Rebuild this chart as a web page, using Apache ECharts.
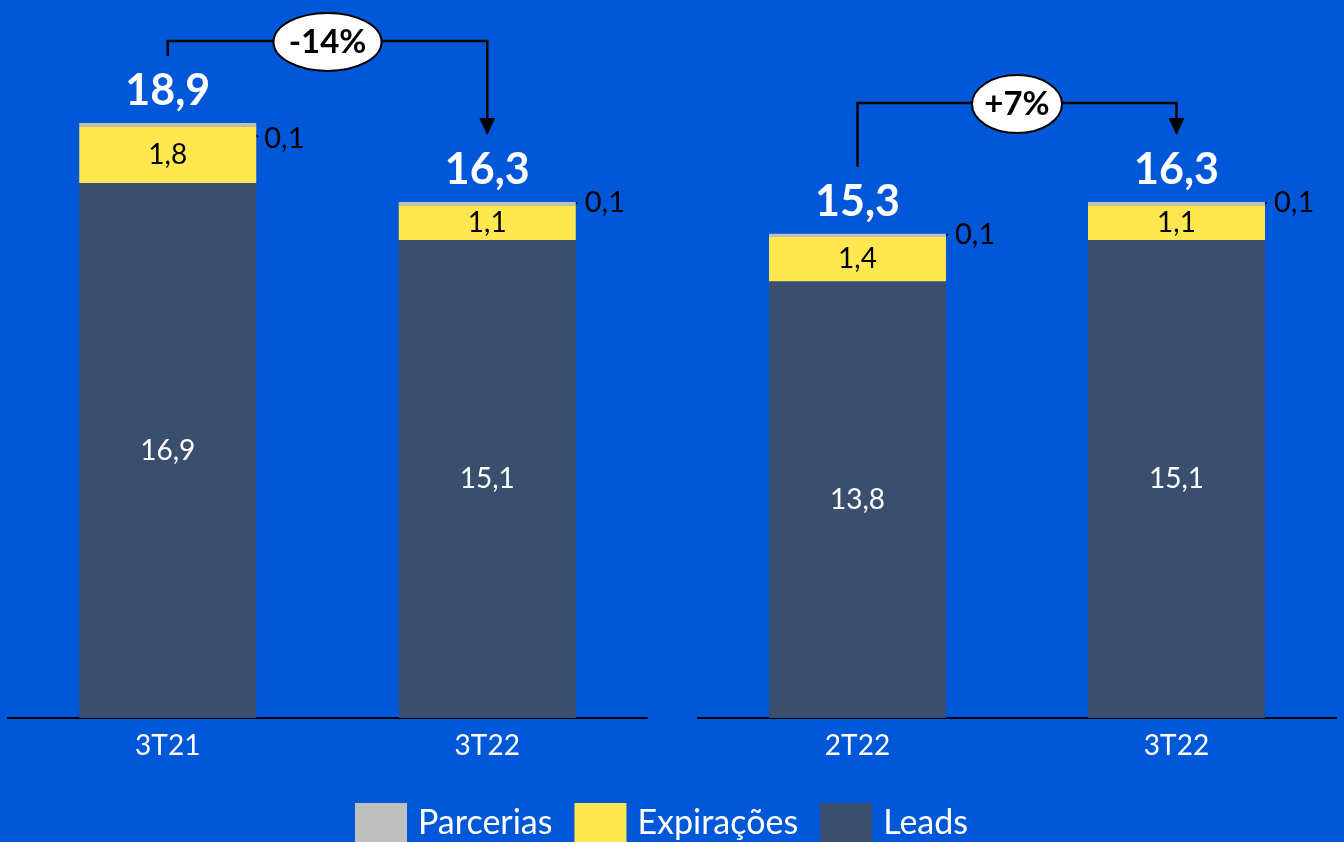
<!DOCTYPE html>
<html>
<head>
<meta charset="utf-8">
<script src="https://cdn.jsdelivr.net/npm/echarts@6/dist/echarts.min.js"></script>
<style>
  html, body { margin: 0; padding: 0; background: #0057D8; }
  #chart { width: 1344px; height: 842px; }
</style>
</head>
<body>
<div id="chart"></div>
<script>
// Períodos comparados em cada painel
const periodosA = ['3T21', '3T22'];
const periodosB = ['2T22', '3T22'];

// Valores por barra (painel A: 3T21, 3T22; painel B: 2T22, 3T22)
const leads      = [16.9, 15.1, 13.8, 15.1];
const expiracoes = [1.8, 1.1, 1.4, 1.1];
const parcerias  = [0.1, 0.1, 0.1, 0.1];
const totais     = [18.9, 16.3, 15.3, 16.3];

// Variação entre as barras de cada painel
const variacoes = ['-14%', '+7%'];

const FONT = 'Lato';
const COR_LEADS = '#3A4F6E';
const COR_EXP = '#FFE84F';
const COR_PARC = '#BFBFBF';
const fmt = v => v.toFixed(1).replace('.', ',');

const chart = echarts.init(document.getElementById('chart'));

const BAR_W = 177;
const grids = [
  { left: 8, width: 639, top: 85, bottom: 124 },
  { left: 698, width: 638, top: 85, bottom: 124 }
];
const categorias = [periodosA, periodosB];

const xAxes = categorias.map((cats, g) => ({
  type: 'category',
  gridIndex: g,
  data: cats,
  axisLine: { show: true, lineStyle: { color: '#000', width: 2 } },
  axisTick: { show: false },
  axisLabel: { color: '#fff', fontSize: 28, fontFamily: FONT, margin: 14 }
}));
const yAxes = categorias.map((_, g) => ({
  type: 'value', gridIndex: g, min: 0, max: 20, show: false,
  splitLine: { show: false }
}));

const series = [];
[0, 1].forEach(g => {
  const sl = arr => arr.slice(2 * g, 2 * g + 2);
  series.push({
    name: 'Leads', type: 'bar', stack: 'p' + g, xAxisIndex: g, yAxisIndex: g,
    barWidth: BAR_W, data: sl(leads),
    itemStyle: { color: COR_LEADS },
    label: { show: true, position: 'inside', color: '#fff', fontSize: 28, fontFamily: FONT,
             formatter: p => fmt(p.value) }
  });
  series.push({
    name: 'Expirações', type: 'bar', stack: 'p' + g, xAxisIndex: g, yAxisIndex: g,
    barWidth: BAR_W, data: sl(expiracoes),
    itemStyle: { color: COR_EXP },
    label: { show: true, position: 'inside', color: '#000', fontSize: 28, fontFamily: FONT,
             formatter: p => fmt(p.value) }
  });
  const tot = sl(totais);
  series.push({
    name: 'Parcerias', type: 'bar', stack: 'p' + g, xAxisIndex: g, yAxisIndex: g,
    barWidth: BAR_W, data: sl(parcerias),
    itemStyle: { color: COR_PARC },
    label: { show: true, position: 'top', distance: 10, color: '#fff', fontSize: 43,
             fontWeight: 'bold', fontFamily: FONT,
             formatter: p => fmt(tot[p.dataIndex]) }
  });
});

chart.setOption({
  backgroundColor: '#0057D8',
  animation: false,
  grid: grids,
  xAxis: xAxes,
  yAxis: yAxes,
  legend: {
    data: ['Parcerias', 'Expirações', 'Leads'],
    left: 355, top: 803, padding: 0,
    itemWidth: 52, itemHeight: 40, itemGap: 22,
    icon: 'rect',
    selectedMode: false,
    textStyle: { color: '#fff', fontSize: 34, fontFamily: FONT, padding: [8, 0, 0, 6] }
  },
  series: series
});

// Anotações: rótulos "0,1" das parcerias e setas de variação
const elems = [];
const centros = [], topos = [];
for (let i = 0; i < 4; i++) {
  const g = Math.floor(i / 2), j = i % 2;
  const pilha = leads[i] + expiracoes[i] + parcerias[i];
  const [cx, ty] = chart.convertToPixel({ gridIndex: g }, [j, pilha]);
  centros.push(cx); topos.push(ty);
  const dir = cx + BAR_W / 2;
  if (i === 0) {
    elems.push({ type: 'line', shape: { x1: dir - 16, y1: ty, x2: dir + 2, y2: ty + 14 },
                 style: { stroke: '#000', lineWidth: 1.5 } });
    elems.push({ type: 'text', x: dir + 8, y: ty + 16,
                 style: { text: fmt(parcerias[i]), fill: '#000', font: '29px ' + FONT,
                          textVerticalAlign: 'middle', textAlign: 'left' } });
  } else {
    elems.push({ type: 'line', shape: { x1: dir - 16, y1: ty + 1, x2: dir + 2, y2: ty + 1 },
                 style: { stroke: '#000', lineWidth: 1.5 } });
    elems.push({ type: 'text', x: dir + 9, y: ty + 1,
                 style: { text: fmt(parcerias[i]), fill: '#000', font: '29px ' + FONT,
                          textVerticalAlign: 'middle', textAlign: 'left' } });
  }
}

const setas = [
  { de: 0, para: 1, elev: 82, rx: 54, texto: variacoes[0] },
  { de: 2, para: 3, elev: 99, rx: 45, texto: variacoes[1] }
];
setas.forEach(s => {
  const x1 = centros[s.de], x2 = centros[s.para];
  const yIni = topos[s.de] - 67;
  const yHor = Math.min(topos[s.de], topos[s.para]) - s.elev;
  const yPonta = topos[s.para] - 67;
  elems.push({ type: 'polyline',
               shape: { points: [[x1, yIni], [x1, yHor], [x2, yHor], [x2, yPonta - 16]] },
               style: { stroke: '#000', lineWidth: 2.5, fill: null } });
  elems.push({ type: 'polygon',
               shape: { points: [[x2 - 8, yPonta - 17], [x2 + 8, yPonta - 17], [x2, yPonta]] },
               style: { fill: '#000' } });
  const mx = (x1 + x2) / 2;
  elems.push({ type: 'ellipse', shape: { cx: mx, cy: yHor + 1, rx: s.rx, ry: 29 },
               style: { fill: '#fff', stroke: '#000', lineWidth: 2 } });
  elems.push({ type: 'text', x: mx, y: yHor + 1,
               style: { text: s.texto, fill: '#000', font: 'bold 33px ' + FONT,
                        textAlign: 'center', textVerticalAlign: 'middle' } });
});

chart.setOption({ graphic: elems });
</script>
</body>
</html>
